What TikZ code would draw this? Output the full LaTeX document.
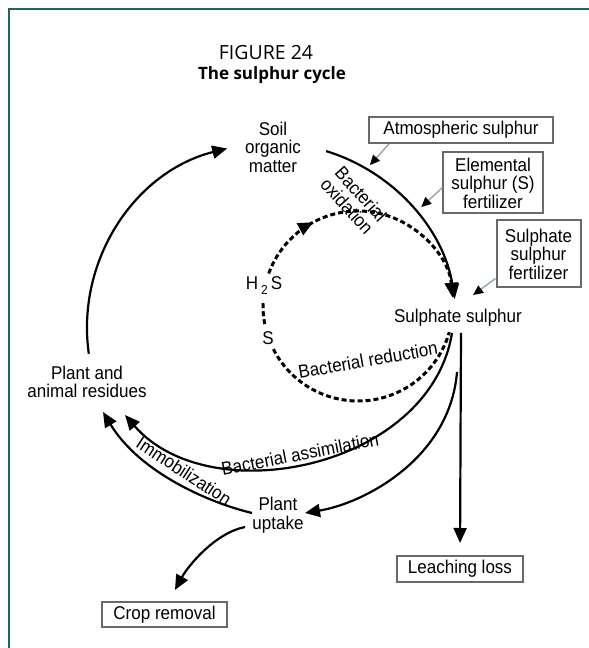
\documentclass[tikz,border=0pt]{standalone}
\usepackage{fontspec}
\setmainfont{Liberation Sans}[FakeStretch=0.92]
\newfontfamily\titlefont{Open Sans}
\usetikzlibrary{arrows.meta, calc, decorations.markings}

\definecolor{frameteal}{RGB}{30,100,95}
\definecolor{pointergray}{RGB}{150,168,180}
\definecolor{boxgray}{RGB}{105,105,105}

\begin{document}
\begin{tikzpicture}[
      x=1pt, y=1pt,
      font=\fontsize{18.5}{18.5}\selectfont,
      label/.style={align=center, inner sep=1pt},
      heading/.style={font=\titlefont\fontsize{19.5}{22}\selectfont, inner sep=0pt},
      sbox/.style={draw=boxgray, line width=2pt, fill=white, align=center, inner sep=1pt},
      cyc/.style={line width=2.2pt, -{Triangle[length=15pt,width=13pt]}},
      dashline/.style={line width=3pt, dash pattern=on 5pt off 3pt},
      midhead/.style={postaction={decorate}, decoration={markings,
          mark=at position #1 with {\arrow{Triangle[length=15pt,width=13pt]}}}},
      pointer/.style={draw=pointergray, line width=1.5pt, -{Triangle[length=10pt,width=9pt,color=black]}}
    ]

    \useasboundingbox (0,0) rectangle (589,648);
    \clip (0,0) rectangle (589,648);
    \draw[frameteal, line width=2pt] (8.5,-20) -- (8.5,638.5) -- (620,638.5);

    \node[heading] (fig) at (266,595) {FIGURE 24};
    \node[heading, font=\titlefont\bfseries\fontsize{17}{20}\selectfont] (title) at (272,573) {The sulphur cycle};

    % pools
    \node[label] (soil) at (273,501) {Soil\\organic\\matter};
    \node[label] (sulphate) at (458,330) {Sulphate sulphur};
    \node[label] (residues) at (87,266) {Plant and\\animal residues};
    \node[label] (uptake) at (278,133) {Plant\\uptake};
    \node[label] (h2s) at (264,362) {H\,\raisebox{-5pt}{\fontsize{13}{13}\selectfont 2}\,S};
    \node[label] (sulf) at (268,310) {S};

    % inputs and losses
    \node[sbox, minimum width=184pt, minimum height=26pt] (atmos) at (461,518) {Atmospheric sulphur};
    \node[sbox, minimum width=100pt, minimum height=61pt] (elem) at (493,465) {Elemental\\sulphur (S)\\fertilizer};
    \node[sbox, minimum width=84pt, minimum height=67pt] (sulfert) at (538.5,394) {Sulphate\\sulphur\\fertilizer};
    \node[sbox, minimum width=126pt, minimum height=26pt] (leach) at (460,79) {Leaching loss};
    \node[sbox, minimum width=125pt, minimum height=25pt] (crop) at (164.5,33.5) {Crop removal};

    % process labels
    \node[label, rotate=-48] (oxid) at (354,448) {Bacterial\\oxidation};
    \node[label, rotate=10] (reduc) at (368,288) {Bacterial reduction};
    \node[label, rotate=11] (assim) at (300,194) {Bacterial assimilation};
    \node[label, rotate=-33] (immob) at (184,177) {Immobilization};

    % circle centres and free ends
    \coordinate (outer) at (272,320);
    \coordinate (inner) at (358,342);
    \coordinate (res-out) at ($(outer)+(188:185)$);
    \coordinate (soil-out) at ($(outer)+(73:185)$);
    \coordinate (atm-hit) at ($(outer)+(59:190)$);
    \coordinate (elem-hit) at ($(outer)+(39:192)$);
    \coordinate (fert-hit) at (473,353);
    \coordinate (h2s-out) at ($(inner)+(160:95)$);
    \coordinate (sulf-up) at ($(inner)+(191:95)$);
    \coordinate (sulf-down) at ($(inner)+(207:95)$);
    \coordinate (assim-out) at (452,315);
    \coordinate (uptake-in) at (457,276);
    \coordinate (leach-out) at (461,315);
    \coordinate (res-in1) at (103,236);
    \coordinate (res-in2) at (125,233);
    \coordinate (up-out1) at (252,135);
    \coordinate (up-out2) at (245,121);
    \coordinate (up-in) at (305,135);
    \coordinate (crop-in) at (175,58);

    % outer cycle
    \draw[cyc] (res-out) arc[start angle=188, end angle=104, radius=185pt];
    \draw[cyc] (soil-out) arc[start angle=73, end angle=9, radius=185pt];

    % inner cycle
    \draw[dashline, midhead=0.27, -{Triangle[length=15pt,width=13pt]}] (h2s-out) arc[start angle=160, end angle=5, radius=95pt];
    \draw[dashline] (sulf-up) arc[start angle=191, end angle=177, radius=95pt];
    \draw[dashline] (sulf-down) arc[start angle=207, end angle=344, radius=95pt];

    % from sulphate sulphur
    \draw[cyc] (assim-out) .. controls (430,180) and (210,135) .. (res-in2);
    \draw[cyc] (uptake-in) .. controls (450,190) and (365,145) .. (up-in);
    \draw[cyc, shorten >=12pt] (leach-out) -- (leach.north);

    % from plant uptake
    \draw[cyc] (up-out1) .. controls (210,145) and (140,175) .. (res-in1);
    \draw[cyc] (up-out2) .. controls (215,115) and (188,82) .. (crop-in);

    % fertilizer and atmosphere inputs
    \draw[pointer] ($(atmos.south west)+(21,0)$) -- (atm-hit);
    \draw[pointer] ($(elem.west)+(0,-5)$) -- (elem-hit);
    \draw[pointer] ($(sulfert.south west)+(0,10)$) -- (fert-hit);

\end{tikzpicture}
\end{document}
